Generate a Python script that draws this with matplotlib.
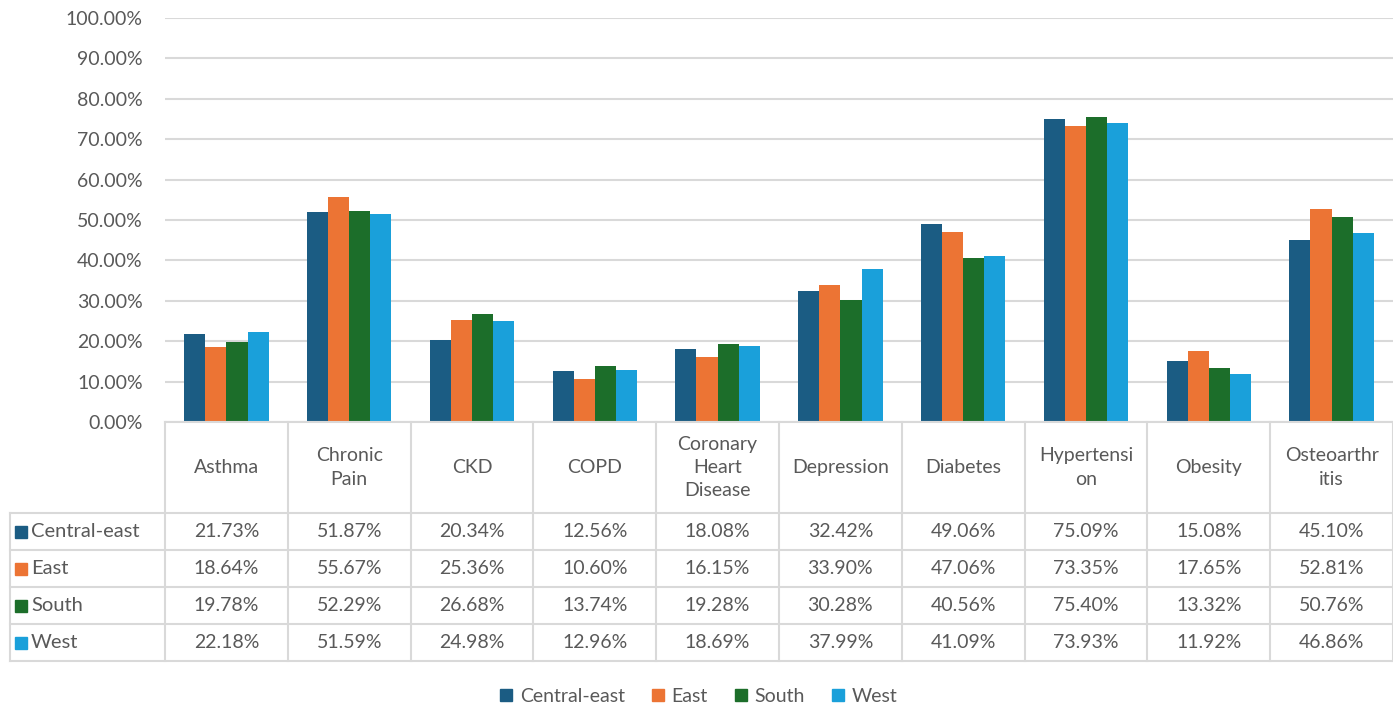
import numpy as np
import matplotlib
matplotlib.use("Agg")
from matplotlib import pyplot as plt

categories = ["Asthma", "Chronic\nPain", "CKD", "COPD", "Coronary\nHeart\nDisease",
              "Depression", "Diabetes", "Hypertensi\non", "Obesity", "Osteoarthr\nitis"]
regions = ["Central-east", "East", "South", "West"]
central_east = [21.73, 51.87, 20.34, 12.56, 18.08, 32.42, 49.06, 75.09, 15.08, 45.10]
east = [18.64, 55.67, 25.36, 10.60, 16.15, 33.90, 47.06, 73.35, 17.65, 52.81]
south = [19.78, 52.29, 26.68, 13.74, 19.28, 30.28, 40.56, 75.40, 13.32, 50.76]
west = [22.18, 51.59, 24.98, 12.96, 18.69, 37.99, 41.09, 73.93, 11.92, 46.86]
colors = ["#1B5C83", "#EC7434", "#1C6E2A", "#1AA0DA"]

series = [central_east, east, south, west]

plt.rcParams['font.family'] = ['Lato', 'DejaVu Sans']
txt = "#595959"
grid = "#D9D9D9"
fs = 14
W, H = 1393, 708
fig = plt.figure(figsize=(W / 100, H / 100), dpi=100)

# pixel layout
x0, x1 = 165, 1393
y_top, y_zero = 18, 422
ax = fig.add_axes([x0 / W, 1 - y_zero / H, (x1 - x0) / W, (y_zero - y_top) / H])

n = len(categories)
x = np.arange(n)
bw = 0.172
for k, (vals, c) in enumerate(zip(series, colors)):
    ax.bar(x + (k - 1.5) * bw, np.array(vals) / 100, bw, color=c, zorder=3)

ax.set_xlim(-0.5, n - 0.5)
ax.set_ylim(0, 1)
ax.set_yticks(np.arange(0, 1.01, 0.1))
ax.set_yticklabels(["%.2f%%" % (v * 100) for v in np.arange(0, 1.01, 0.1)],
                   fontsize=fs, color=txt)
ax.set_xticks([])
ax.tick_params(axis='y', length=0, pad=16)
ax.grid(axis='y', color=grid, lw=1.5, zorder=0)
for s in ax.spines.values():
    s.set_visible(False)

# data table drawn in pixel coordinates on an overlay axes
tab = fig.add_axes([0, 0, 1, 1], facecolor='none')
tab.set_xlim(0, W)
tab.set_ylim(H, 0)
tab.axis('off')

cw = (x1 - x0) / n
edges = [x0 + i * cw for i in range(n + 1)]
row_lines = [y_zero, 513, 550, 587, 624, 661]
tab_left = 10
lk = dict(color=grid, lw=1.5)

tab.plot([x0, W], [y_zero, y_zero], **lk)
for y in row_lines[1:]:
    tab.plot([tab_left, W], [y, y], **lk)
for e in edges:
    tab.plot([e, e], [y_zero, row_lines[-1]], **lk)
tab.plot([tab_left, tab_left], [row_lines[1], row_lines[-1]], **lk)

for i, cat in enumerate(categories):
    cx = x0 + (i + 0.5) * cw
    tab.text(cx, (row_lines[0] + row_lines[1]) / 2, cat, ha='center', va='center',
             fontsize=fs, color=txt, linespacing=1.45)
    for r, vals in enumerate(series):
        cy = (row_lines[r + 1] + row_lines[r + 2]) / 2
        tab.text(cx, cy, "%.2f%%" % vals[i], ha='center', va='center',
                 fontsize=fs, color=txt)

for r, (name, c) in enumerate(zip(regions, colors)):
    cy = (row_lines[r + 1] + row_lines[r + 2]) / 2
    tab.plot([21], [cy], marker='s', ms=9, color=c, ls='none')
    tab.text(31, cy, name, ha='left', va='center', fontsize=fs + 0.5, color=txt)

# legend
handles = [plt.Line2D([], [], marker='s', ms=8.5, ls='none', color=c) for c in colors]
fig.legend(handles, regions, loc='center', bbox_to_anchor=(698 / W, 1 - 696 / H),
           ncol=4, frameon=False, fontsize=fs, handletextpad=0.3, handlelength=0.8,
           columnspacing=1.3, labelcolor=txt)

fig.savefig("out.png", dpi=100)
